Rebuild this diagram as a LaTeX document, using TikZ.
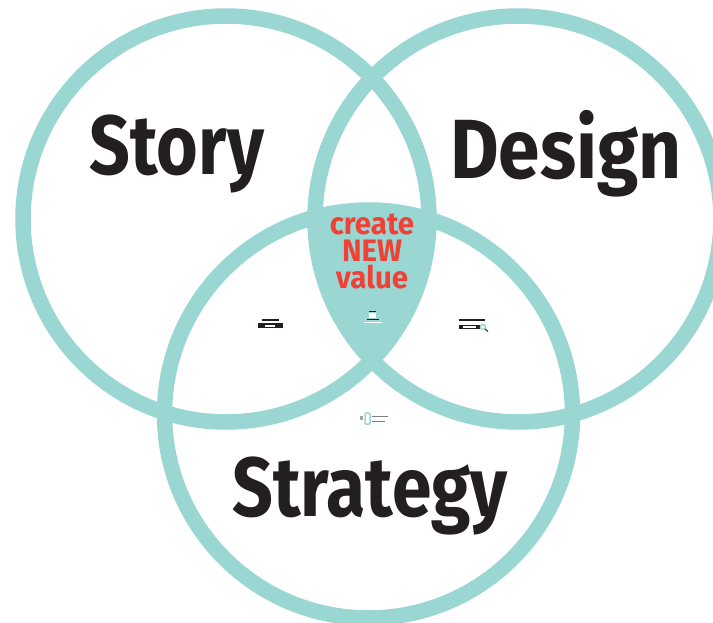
\documentclass[tikz,border=0pt]{standalone}
\usepackage{fontspec}
\setmainfont{Fira Sans}
\usepackage{xcolor}
\usetikzlibrary{positioning}
\definecolor{ringteal}{HTML}{9AD6D2}
\definecolor{labelblack}{HTML}{231F20}
\definecolor{valuered}{HTML}{EF4136}
\tikzset{
    ring/.style={draw=ringteal,line width=15.5pt},
    big label/.style={text=labelblack,font=\fontsize{84}{84}\selectfont\bfseries,inner sep=0pt,xscale=#1},
    big label/.default=.85,
    value label/.style={text=valuered,font=\fontsize{31}{27}\selectfont\bfseries,inner sep=0pt,align=center,xscale=.95},
    tiny bar/.style={fill=#1,draw=none},
    tiny bar/.default=labelblack,
}
\begin{document}
\begin{tikzpicture}[x=1pt,y=-1pt]
        \useasboundingbox (0,0) rectangle (713,622);
        \clip (0,0) rectangle (713,622);
        % shared middle part
        \begin{scope}
            \clip (226,219) circle (203);
            \clip (518,219) circle (203);
            \fill[ringteal] (368.5,414) circle (204);
        \end{scope}
        \draw[ring] (226,219) circle (203);
        \draw[ring] (518,219) circle (203);
        \draw[ring] (368.5,414) circle (204);
        \node[big label] (story) at (177,154) {Story};
        \node[big label=.89] (design) at (566,154) {Design};
        \node[big label] (strategy) at (370,496) {Strategy};
        \node[value label] (value) at (372,251) {create\\NEW\\value};
        % small marks, left
        \fill[tiny bar] (262,319) rectangle (279,320.5);
        \fill[tiny bar] (258,323) rectangle (283,328);
        \fill[tiny bar=white] (265,324.5) rectangle (275,326.5);
        % small marks, middle
        \fill[tiny bar] (369,310.5) rectangle (376,311.5);
        \fill[tiny bar=white] (369,313) rectangle (376,318);
        \fill[tiny bar] (367,319) rectangle (379,320);
        \fill[tiny bar=white] (364,321.5) rectangle (382,323);
        % small marks, right
        \fill[tiny bar] (459,319) rectangle (485,320.5);
        \fill[tiny bar] (459,325) rectangle (480,328.5);
        \fill[tiny bar=white] (463,326) rectangle (476,327.5);
        \draw[ringteal,line width=1.5pt] (483,327) circle (2.5);
        \draw[labelblack,line width=1pt] (485,329) -- (488,331.5);
        % small marks, bottom
        \draw[ringteal,line width=1.5pt,rounded corners=1pt] (365,413) rectangle (370,424);
        \fill[tiny bar=gray!70] (360,416) rectangle (363,420);
        \fill[tiny bar=gray] (372,416) rectangle (388,417);
        \fill[tiny bar=gray] (372,420.5) rectangle (385,421.5);
    \end{tikzpicture}
\end{document}
